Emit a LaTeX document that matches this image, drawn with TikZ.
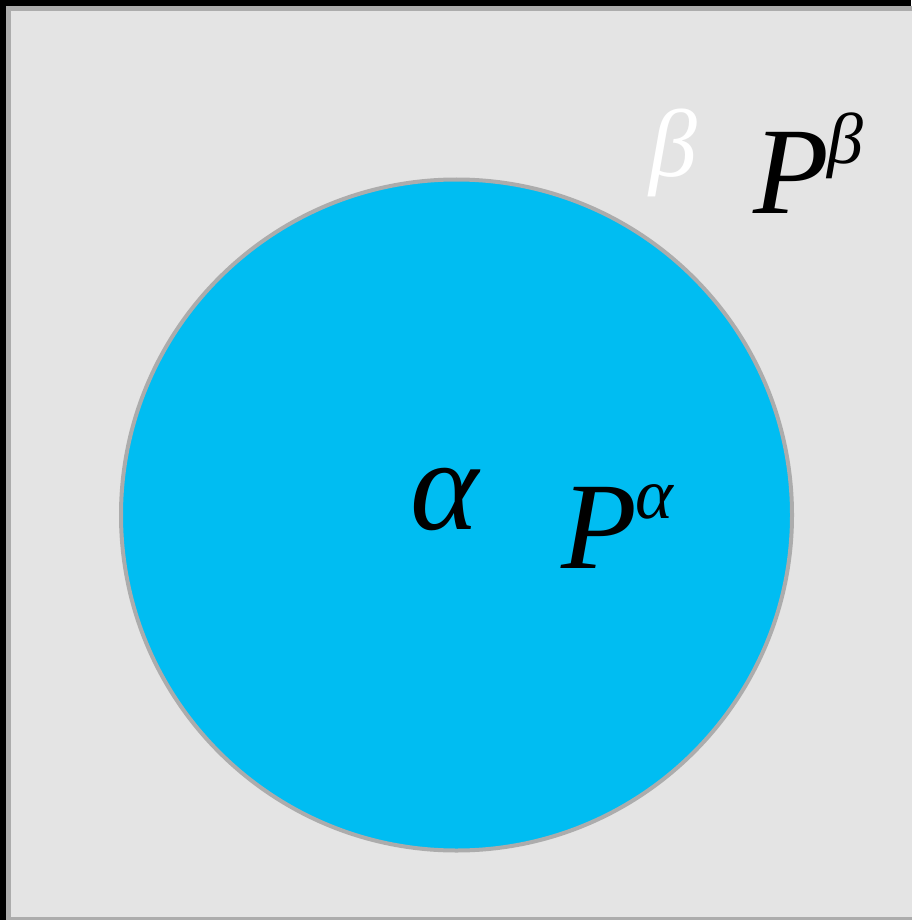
\documentclass[tikz,border=0pt]{standalone}
\usepackage{fontspec}
\setmainfont{Liberation Serif}
\usepackage{xcolor}
\usepackage{tikz}
\definecolor{phasefill}{RGB}{0,189,242}
\definecolor{boxfill}{RGB}{228,228,228}
\definecolor{edgegray}{RGB}{172,172,172}

\begin{document}
\begin{tikzpicture}[
    x=1pt,  % 1px = 1pt
    y=-1pt, % y downwards, like the image
    label/.style={inner sep=0pt, anchor=base west, font=\itshape},
]
    \useasboundingbox (0,0) rectangle (911,920);

    % --- background ---
    \fill[black] (0,0) rectangle (911,920);
    \filldraw[fill=boxfill, draw=edgegray, line width=5pt] (8.5,8.5) rectangle (930,919.5);

    % --- phase alpha ---
    \filldraw[fill=phasefill, draw=edgegray, line width=4pt] (456.5,515) circle (335.5);

    % --- labels ---
    \node[label, white, font=\fontsize{96}{96}\selectfont\itshape] (beta) at (649,177) {β};
    \node[label, font=\fontsize{124}{124}\selectfont\itshape] (Pbeta) at (753,213)
        {P\kern-1pt\raisebox{50pt}{\fontsize{72}{72}\selectfont β}};
    \node[label, font=\fontsize{130}{130}\selectfont\itshape] (alpha) at (410,529) {α};
    \node[label, font=\fontsize{124}{124}\selectfont\itshape] (Palpha) at (561,568)
        {P\kern-1pt\raisebox{50pt}{\fontsize{72}{72}\selectfont α}};
\end{tikzpicture}
\end{document}
